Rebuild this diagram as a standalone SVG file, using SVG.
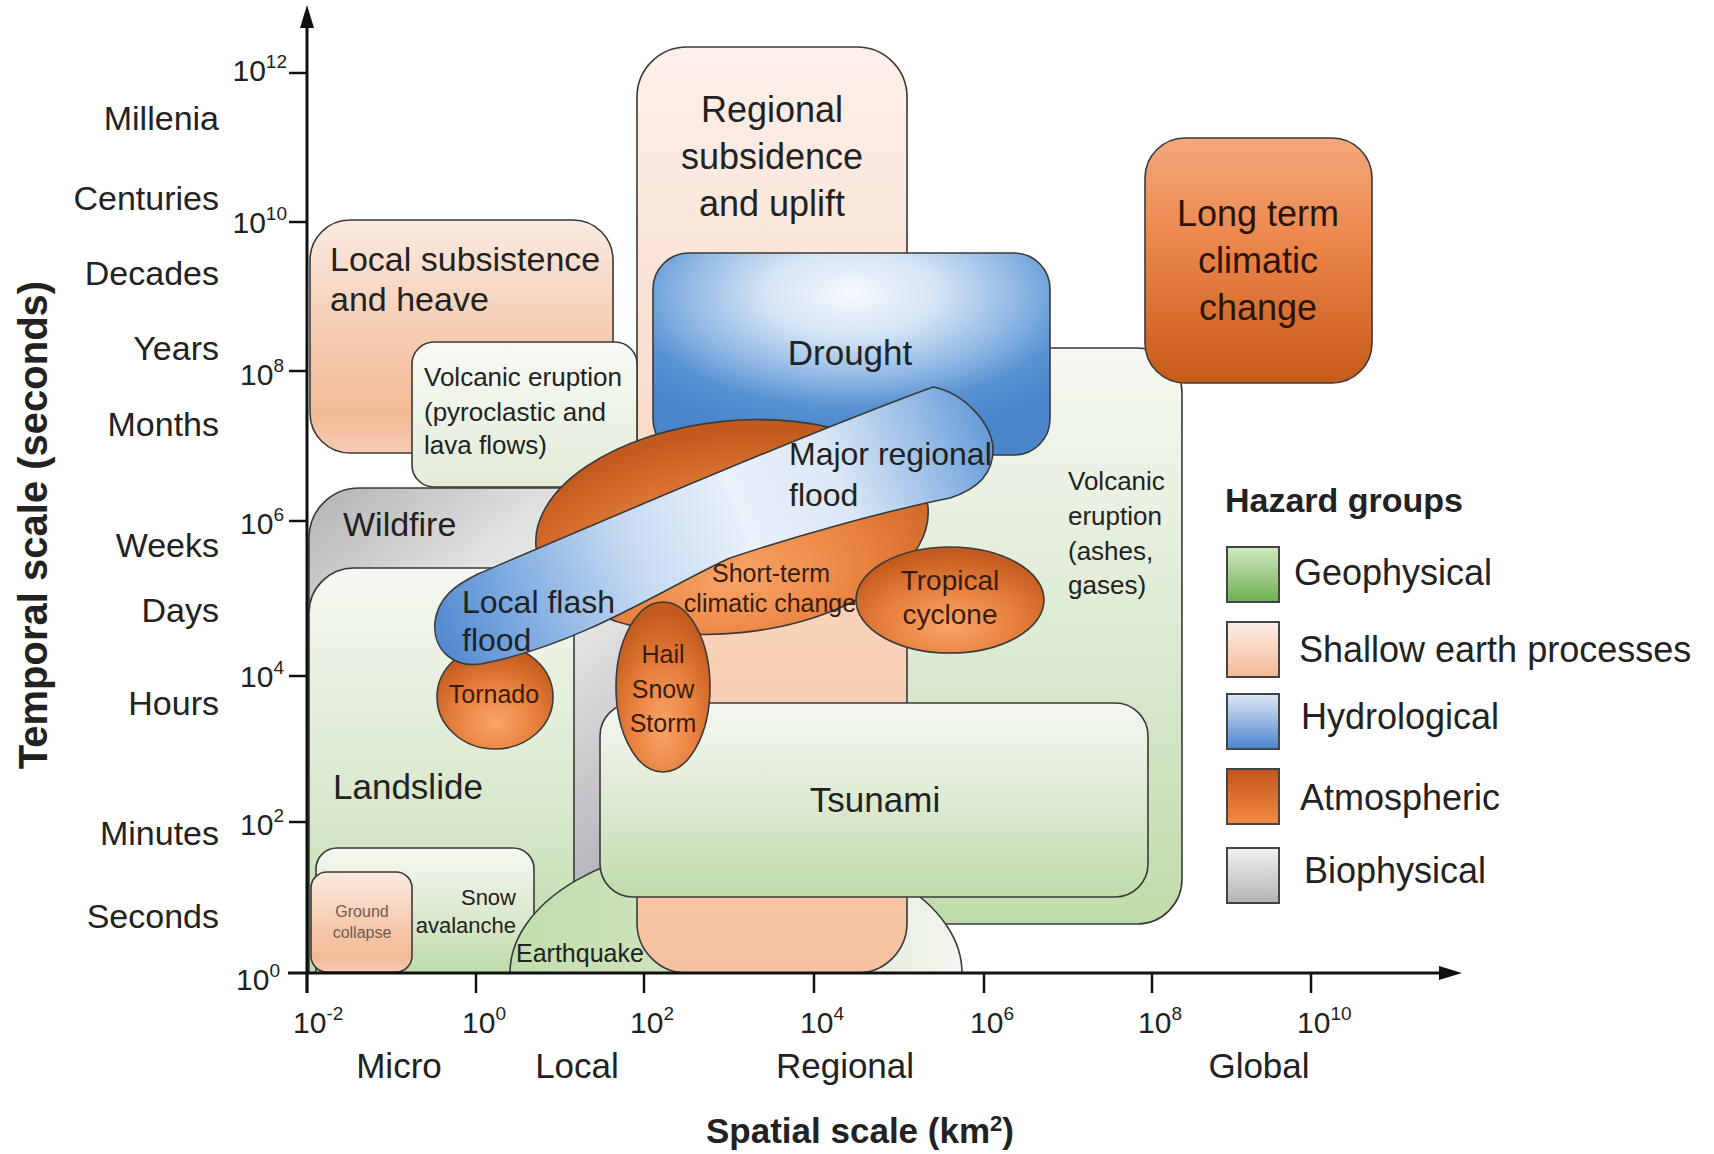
<svg xmlns="http://www.w3.org/2000/svg" width="1714" height="1154" viewBox="0 0 1714 1154">
<style>
  text { font-family: "Liberation Sans", Arial, sans-serif; fill: #222; }
  .box { stroke: #3a3a3a; stroke-width: 1.6; }
  .big { font-size: 35px; }
  .mid { font-size: 26px; }
  .atm { fill: #3a1c0a; text-anchor: middle; }
  .c { text-anchor: middle; }
  .axis { stroke: #111; stroke-width: 3; fill: none; }
  .tick { stroke: #111; stroke-width: 2.5; }
  .tl { font-size: 34px; text-anchor: end; }
  .num { font-size: 30px; }
  .bold { font-weight: bold; }
  .leg { stroke: #444; stroke-width: 2; }
  .legtxt { font-size: 36px; }
</style>
<defs>
  <linearGradient id="gGreen" x1="0" y1="0" x2="0" y2="1">
    <stop offset="0" stop-color="#f5f8f2"/>
    <stop offset="0.45" stop-color="#e0ecd6"/>
    <stop offset="1" stop-color="#c0dbab"/>
  </linearGradient>
  <linearGradient id="gPeach" x1="0" y1="0" x2="0" y2="1">
    <stop offset="0" stop-color="#fdf0ea"/>
    <stop offset="0.6" stop-color="#f8d3bb"/>
    <stop offset="1" stop-color="#f5c29f"/>
  </linearGradient>
  <linearGradient id="gLocal" x1="0" y1="0" x2="0" y2="1">
    <stop offset="0" stop-color="#fbeae1"/>
    <stop offset="0.6" stop-color="#f5c6a8"/>
    <stop offset="0.85" stop-color="#f3bb97"/>
    <stop offset="1" stop-color="#f6cdb4"/>
  </linearGradient>
  <linearGradient id="gPyro" x1="0" y1="0" x2="0" y2="1">
    <stop offset="0" stop-color="#f8f9f5"/>
    <stop offset="1" stop-color="#e2edd9"/>
  </linearGradient>
  <linearGradient id="gQuake" x1="0" y1="0" x2="1" y2="0">
    <stop offset="0" stop-color="#c2ddad"/>
    <stop offset="0.55" stop-color="#d5e7c7"/>
    <stop offset="1" stop-color="#f3f5ef"/>
  </linearGradient>
  <linearGradient id="gGray" gradientUnits="userSpaceOnUse" x1="309" y1="520" x2="600" y2="880">
    <stop offset="0" stop-color="#b9b9b9"/>
    <stop offset="0.3" stop-color="#e2e2e2"/>
    <stop offset="0.5" stop-color="#eaeaea"/>
    <stop offset="0.75" stop-color="#cfcfd2"/>
    <stop offset="1" stop-color="#b5b5ba"/>
  </linearGradient>
  <radialGradient id="gDrought" cx="0.5" cy="0.2" r="0.7">
    <stop offset="0" stop-color="#f5f9fd"/>
    <stop offset="0.3" stop-color="#d6e5f5"/>
    <stop offset="0.6" stop-color="#8fb8e4"/>
    <stop offset="0.8" stop-color="#5a93d3"/>
    <stop offset="1" stop-color="#4a86cc"/>
  </radialGradient>
  <linearGradient id="gFlood" gradientUnits="userSpaceOnUse" x1="435" y1="640" x2="995" y2="420">
    <stop offset="0" stop-color="#5089d0"/>
    <stop offset="0.12" stop-color="#74a4de"/>
    <stop offset="0.35" stop-color="#c4d9f1"/>
    <stop offset="0.55" stop-color="#e9f1fa"/>
    <stop offset="0.72" stop-color="#dbe8f6"/>
    <stop offset="0.88" stop-color="#96bce6"/>
    <stop offset="1" stop-color="#5f96d5"/>
  </linearGradient>
  <radialGradient id="gAtm" cx="0.5" cy="0.7" r="0.65" fx="0.5" fy="0.75">
    <stop offset="0" stop-color="#f8a668"/>
    <stop offset="0.5" stop-color="#ea8240"/>
    <stop offset="1" stop-color="#c25a1d"/>
  </radialGradient>
  <linearGradient id="gLong" x1="0" y1="0" x2="0" y2="1">
    <stop offset="0" stop-color="#f4a97c"/>
    <stop offset="0.45" stop-color="#eb8448"/>
    <stop offset="1" stop-color="#c55a1a"/>
  </linearGradient>
  <linearGradient id="lgGeo" x1="0" y1="0" x2="0" y2="1">
    <stop offset="0" stop-color="#d3e9c2"/>
    <stop offset="1" stop-color="#6db050"/>
  </linearGradient>
  <linearGradient id="lgShallow" x1="0" y1="0" x2="0" y2="1">
    <stop offset="0" stop-color="#fdeee8"/>
    <stop offset="1" stop-color="#f3ba94"/>
  </linearGradient>
  <linearGradient id="lgHydro" x1="0" y1="0" x2="0" y2="1">
    <stop offset="0" stop-color="#dfe8f7"/>
    <stop offset="1" stop-color="#4b84ce"/>
  </linearGradient>
  <linearGradient id="lgAtmo" x1="0" y1="0" x2="0" y2="1">
    <stop offset="0" stop-color="#c1561a"/>
    <stop offset="1" stop-color="#f38a45"/>
  </linearGradient>
  <linearGradient id="lgBio" x1="0" y1="0" x2="0" y2="1">
    <stop offset="0" stop-color="#f2f2f2"/>
    <stop offset="1" stop-color="#b3b3b3"/>
  </linearGradient>
</defs>

<rect width="1714" height="1154" fill="#ffffff"/>

<!-- hazard regions, back to front -->
<g id="volcanic-ashes">
  <rect class="box" x="860" y="348" width="322" height="576" rx="45" fill="url(#gGreen)"/>
  <text class="mid" x="1068" y="490">Volcanic</text>
  <text class="mid" x="1068" y="525">eruption</text>
  <text class="mid" x="1068" y="560">(ashes,</text>
  <text class="mid" x="1068" y="594">gases)</text>
</g>
<g id="wildfire">
  <path class="box" d="M309 973 V538 A50 50 0 0 1 359 488 H640 V973 Z" fill="url(#gGray)"/>
  <text x="343" y="536" font-size="34">Wildfire</text>
</g>
<g id="landslide">
  <path class="box" d="M309 973 V613 A45 45 0 0 1 354 568 H574 V973 Z" fill="url(#gGreen)"/>
  <text class="big" x="333" y="799">Landslide</text>
</g>
<g id="snow-avalanche">
  <path class="box" d="M316 973 V869 A21 21 0 0 1 337 848 H513 A21 21 0 0 1 534 869 V973 Z" fill="url(#gGreen)"/>
  <text x="516" y="905" font-size="22" text-anchor="end">Snow</text>
  <text x="516" y="933" font-size="22" text-anchor="end">avalanche</text>
</g>
<g id="ground-collapse">
  <rect class="box" x="311" y="872" width="101" height="100" rx="16" fill="url(#gLocal)"/>
  <text class="c" x="362" y="917" font-size="16" style="fill:#6e5b52">Ground</text>
  <text class="c" x="362" y="938" font-size="16" style="fill:#6e5b52">collapse</text>
</g>
<g id="earthquake">
  <path class="box" d="M510 973 A226 131 0 0 1 962 973 Z" fill="url(#gQuake)"/>
  <text x="516" y="962" font-size="25">Earthquake</text>
</g>
<g id="regional-subsidence">
  <rect class="box" x="637" y="47" width="270" height="926" rx="50" fill="url(#gPeach)"/>
  <text class="c" x="772" y="122" font-size="36">Regional</text>
  <text class="c" x="772" y="169" font-size="36">subsidence</text>
  <text class="c" x="772" y="216" font-size="36">and uplift</text>
</g>
<g id="local-subsistence">
  <rect class="box" x="310" y="220" width="303" height="233" rx="40" fill="url(#gLocal)"/>
  <text x="330" y="271" font-size="34">Local subsistence</text>
  <text x="330" y="311" font-size="34">and heave</text>
</g>
<g id="volcanic-pyroclastic">
  <rect class="box" x="412" y="342" width="225" height="145" rx="22" fill="url(#gPyro)"/>
  <text class="mid" x="424" y="386">Volcanic eruption</text>
  <text class="mid" x="424" y="421">(pyroclastic and</text>
  <text class="mid" x="424" y="454">lava flows)</text>
</g>
<g id="long-term-climatic-change">
  <rect class="box" x="1145" y="138" width="227" height="245" rx="40" fill="url(#gLong)"/>
  <text class="c" x="1258" y="226" font-size="36" style="fill:#2a1408">Long term</text>
  <text class="c" x="1258" y="273" font-size="36" style="fill:#2a1408">climatic</text>
  <text class="c" x="1258" y="320" font-size="36" style="fill:#2a1408">change</text>
</g>
<g id="drought">
  <rect class="box" x="653" y="253" width="397" height="202" rx="36" fill="url(#gDrought)"/>
  <text class="c" x="850" y="365" font-size="35">Drought</text>
</g>
<g id="tsunami">
  <rect class="box" x="600" y="703" width="548" height="194" rx="33" fill="url(#gGreen)"/>
  <text class="c big" x="875" y="812">Tsunami</text>
</g>
<g id="short-term-climatic-change">
  <ellipse class="box" cx="732" cy="527" rx="197" ry="106" transform="rotate(-6 732 527)" fill="url(#gAtm)"/>
  <text class="atm" x="771" y="582" font-size="25">Short-term</text>
  <text class="atm" x="770" y="612" font-size="25">climatic change</text>
</g>
<g id="tropical-cyclone">
  <ellipse class="box" cx="950" cy="600" rx="94" ry="53" fill="url(#gAtm)"/>
  <text class="atm" x="950" y="590" font-size="28">Tropical</text>
  <text class="atm" x="950" y="624" font-size="28">cyclone</text>
</g>
<g id="tornado">
  <ellipse class="box" cx="495" cy="697" rx="58" ry="52" fill="url(#gAtm)"/>
  <text class="atm" x="494" y="703" font-size="25">Tornado</text>
</g>
<g id="flood">
  <path class="box" fill="url(#gFlood)" d="M478 574 C600 522 800 436 933 387 C965 393 993 425 993 450 C993 475 975 490 950 498 C880 512 790 538 730 558 C670 585 585 642 490 662 C455 672 432 650 435 622 C438 598 455 585 478 574 Z"/>
  <text x="462" y="613" font-size="32">Local flash</text>
  <text x="462" y="651" font-size="32">flood</text>
  <text x="789" y="465" font-size="32">Major regional</text>
  <text x="789" y="506" font-size="32">flood</text>
</g>
<g id="hail-snow-storm">
  <ellipse class="box" cx="663" cy="687" rx="47" ry="85" fill="url(#gAtm)"/>
  <text class="atm" x="663" y="663" font-size="25">Hail</text>
  <text class="atm" x="663" y="698" font-size="25">Snow</text>
  <text class="atm" x="663" y="732" font-size="25">Storm</text>
</g>

<!-- axes, ticks and scale labels -->
<g id="axes">
  <line class="axis" x1="307" y1="993" x2="307" y2="24"/>
  <polygon points="307,5 300,28 314,28" fill="#111"/>
  <line class="axis" x1="288" y1="973" x2="1442" y2="973"/>
  <polygon points="1462,973 1439,966 1439,980" fill="#111"/>

  <g class="tick">
    <line x1="289" y1="73" x2="307" y2="73"/>
    <line x1="289" y1="222" x2="307" y2="222"/>
    <line x1="289" y1="371" x2="307" y2="371"/>
    <line x1="289" y1="521" x2="307" y2="521"/>
    <line x1="289" y1="676" x2="307" y2="676"/>
    <line x1="289" y1="822" x2="307" y2="822"/>
    <line x1="307" y1="973" x2="307" y2="993"/>
    <line x1="476" y1="973" x2="476" y2="993"/>
    <line x1="644" y1="973" x2="644" y2="993"/>
    <line x1="814" y1="973" x2="814" y2="993"/>
    <line x1="984" y1="973" x2="984" y2="993"/>
    <line x1="1152" y1="973" x2="1152" y2="993"/>
    <line x1="1311" y1="973" x2="1311" y2="993"/>
  </g>

  <g class="num" text-anchor="end">
    <text x="287" y="81">10<tspan font-size="19" dy="-13">12</tspan></text>
    <text x="287" y="233">10<tspan font-size="19" dy="-13">10</tspan></text>
    <text x="284" y="385">10<tspan font-size="19" dy="-13">8</tspan></text>
    <text x="284" y="534">10<tspan font-size="19" dy="-13">6</tspan></text>
    <text x="284" y="687">10<tspan font-size="19" dy="-13">4</tspan></text>
    <text x="284" y="835">10<tspan font-size="19" dy="-13">2</tspan></text>
    <text x="280" y="990">10<tspan font-size="19" dy="-13">0</tspan></text>
  </g>
  <g class="num">
    <text x="293" y="1033">10<tspan font-size="19" dy="-13">-2</tspan></text>
    <text x="462" y="1033">10<tspan font-size="19" dy="-13">0</tspan></text>
    <text x="630" y="1033">10<tspan font-size="19" dy="-13">2</tspan></text>
    <text x="800" y="1033">10<tspan font-size="19" dy="-13">4</tspan></text>
    <text x="970" y="1033">10<tspan font-size="19" dy="-13">6</tspan></text>
    <text x="1138" y="1033">10<tspan font-size="19" dy="-13">8</tspan></text>
    <text x="1297" y="1033">10<tspan font-size="19" dy="-13">10</tspan></text>
  </g>

  <g class="tl">
    <text x="219" y="130">Millenia</text>
    <text x="219" y="210">Centuries</text>
    <text x="219" y="285">Decades</text>
    <text x="219" y="360">Years</text>
    <text x="219" y="436">Months</text>
    <text x="219" y="557">Weeks</text>
    <text x="219" y="622">Days</text>
    <text x="219" y="715">Hours</text>
    <text x="219" y="845">Minutes</text>
    <text x="219" y="928">Seconds</text>
  </g>

  <g class="big c">
    <text x="399" y="1078">Micro</text>
    <text x="577" y="1078">Local</text>
    <text x="845" y="1078">Regional</text>
    <text x="1259" y="1078">Global</text>
  </g>

  <text class="bold" font-size="40" text-anchor="middle" transform="translate(47 525) rotate(-90)">Temporal scale (seconds)</text>
  <text class="bold" font-size="35" text-anchor="middle" x="860" y="1143">Spatial scale (km<tspan font-size="22" dy="-12">2</tspan><tspan dy="12">)</tspan></text>
</g>

<!-- legend -->
<g id="legend">
  <text class="bold" x="1225" y="512" font-size="34">Hazard groups</text>
  <rect class="leg" x="1227" y="547" width="52" height="55" fill="url(#lgGeo)"/>
  <text class="legtxt" x="1294" y="585">Geophysical</text>
  <rect class="leg" x="1227" y="622" width="52" height="55" fill="url(#lgShallow)"/>
  <text class="legtxt" x="1299" y="662">Shallow earth processes</text>
  <rect class="leg" x="1227" y="694" width="52" height="55" fill="url(#lgHydro)"/>
  <text class="legtxt" x="1301" y="729">Hydrological</text>
  <rect class="leg" x="1227" y="769" width="52" height="55" fill="url(#lgAtmo)"/>
  <text class="legtxt" x="1300" y="810">Atmospheric</text>
  <rect class="leg" x="1227" y="848" width="52" height="55" fill="url(#lgBio)"/>
  <text class="legtxt" x="1304" y="883">Biophysical</text>
</g>
</svg>
